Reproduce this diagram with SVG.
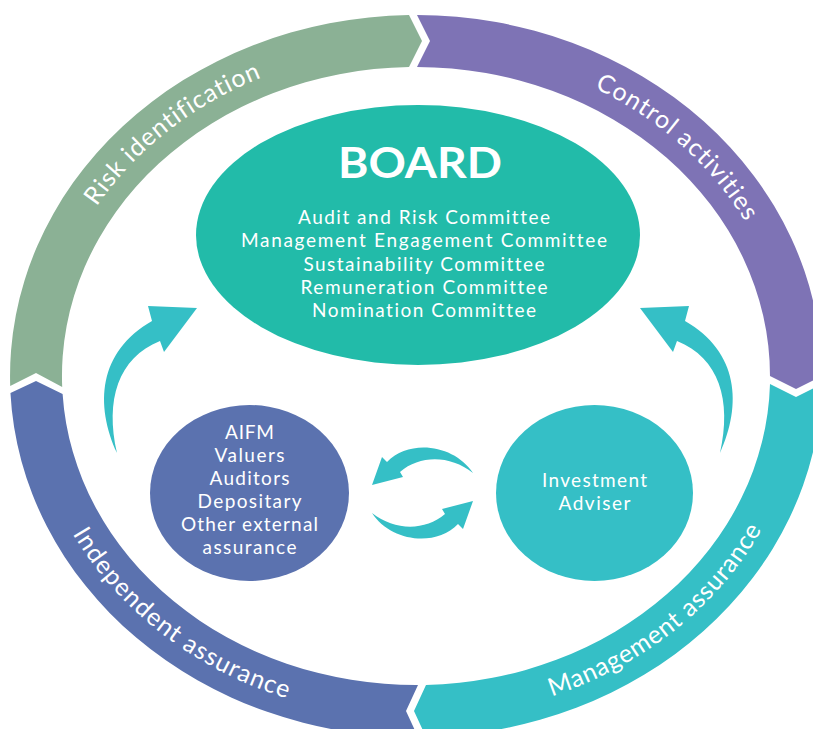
<svg xmlns="http://www.w3.org/2000/svg" width="813" height="729" viewBox="0 0 813 729">
  <style>
    .t { font-family: Lato, "Open Sans", "Liberation Sans", sans-serif; fill: #ffffff; font-variant-ligatures: none; }
    .ring { font-size: 25px; font-weight: 400; }
    .body { font-size: 19px; text-anchor: middle; }
    .title { font-size: 42px; font-weight: 700; text-anchor: middle; }
    .arrow { fill: #35bfc6; }
  </style>
  <defs>
    <path id="pRisk" d="M 43 376 A 373 328 0 0 1 416 48"/>
    <path id="pControl" d="M 416 48 A 373 328 0 0 1 789 376"/>
    <path id="pMgmt" d="M 416 718 A 387 342 0 0 0 803 376"/>
    <path id="pIndep" d="M 29 376 A 387 342 0 0 0 416 718"/>
    <path id="arrowCurve" d="M 117 453 C 95 405 98 352 152 321 L 148 306 L 197 308 L 164 352 L 160 341 C 118 358 105 400 117 453 Z"/>
    <path id="arrowSmall" d="M 473 473 C 455 445 410 438 387 462 L 382 457 L 372 485 L 403 477 L 400 472 C 420 455 450 455 473 473 Z"/>
  </defs>
  <rect width="813" height="729" fill="#ffffff"/>

  <g id="risk-identification">
    <path fill="#8bb195" d="M 10.2 386 A 406 361 0 0 1 409 15 L 422 41 L 409 67 A 354 309 0 0 0 62.2 387 L 36 373 Z"/>
    <text class="t ring"><textPath href="#pRisk" startOffset="52%" text-anchor="middle" textLength="212">Risk identification</textPath></text>
  </g>
  <g id="control-activities">
    <path fill="#7e73b5" d="M 417 15 A 406 361 0 0 1 822 376 L 796 389 L 770 376 A 354 309 0 0 0 417 67 L 430 41 Z"/>
    <text class="t ring"><textPath href="#pControl" startOffset="52%" text-anchor="middle" textLength="204">Control activities</textPath></text>
  </g>
  <g id="management-assurance">
    <path fill="#35bfc6" d="M 822 384 A 406 361 0 0 1 426 737 L 414 711 L 426 685 A 354 309 0 0 0 770 384 L 796 397 Z"/>
    <text class="t ring"><textPath href="#pMgmt" startOffset="48%" text-anchor="middle" textLength="274">Management assurance</textPath></text>
  </g>
  <g id="independent-assurance">
    <path fill="#5b72af" d="M 418 737 A 406 361 0 0 1 10.45 393 L 36 381 L 62.6 394 A 354 309 0 0 0 418 685 L 406 711 Z"/>
    <text class="t ring"><textPath href="#pIndep" startOffset="53%" text-anchor="middle" textLength="276">Independent assurance</textPath></text>
  </g>

  <g id="board">
    <ellipse cx="418" cy="235" rx="222" ry="130" fill="#22bba9"/>
    <text class="t title" x="420" y="178" textLength="164" lengthAdjust="spacingAndGlyphs">BOARD</text>
    <text class="t body" x="424" y="224" textLength="252">Audit and Risk Committee</text>
    <text class="t body" x="424" y="247.3" textLength="366">Management Engagement Committee</text>
    <text class="t body" x="424" y="270.6" textLength="241">Sustainability Committee</text>
    <text class="t body" x="424" y="293.9" textLength="247">Remuneration Committee</text>
    <text class="t body" x="424" y="317.2" textLength="224">Nomination Committee</text>
  </g>

  <g id="external-assurance">
    <ellipse cx="249.5" cy="493" rx="99.5" ry="88" fill="#5b72af"/>
    <text class="t body" x="249.5" y="438.5" textLength="49">AIFM</text>
    <text class="t body" x="249.5" y="461.6" textLength="70">Valuers</text>
    <text class="t body" x="249.5" y="484.7" textLength="80">Auditors</text>
    <text class="t body" x="249.5" y="507.8" textLength="104">Depositary</text>
    <text class="t body" x="249.5" y="530.9" textLength="137">Other external</text>
    <text class="t body" x="249.5" y="554" textLength="94">assurance</text>
  </g>

  <g id="investment-adviser">
    <ellipse cx="594.5" cy="493" rx="98.5" ry="88" fill="#35bfc6"/>
    <text class="t body" x="594.5" y="487" textLength="105">Investment</text>
    <text class="t body" x="594.5" y="510" textLength="72">Adviser</text>
  </g>

  <g id="connectors">
    <use href="#arrowCurve" class="arrow"/>
    <use href="#arrowCurve" class="arrow" transform="translate(837 0) scale(-1 1)"/>
    <use href="#arrowSmall" class="arrow"/>
    <use href="#arrowSmall" class="arrow" transform="rotate(180 422.5 493)"/>
  </g>
</svg>
